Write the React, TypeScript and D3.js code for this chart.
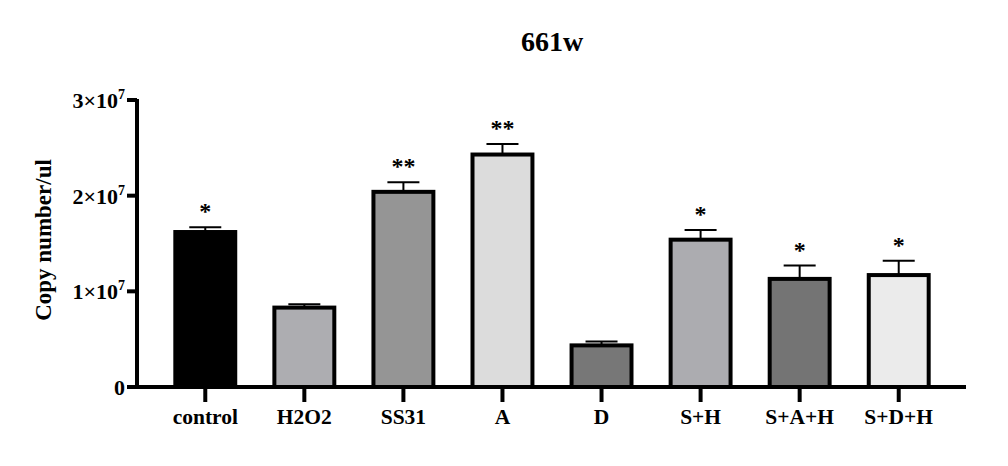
import { useEffect } from "react";
import * as d3 from "d3";

const categories = ["control", "H2O2", "SS31", "A", "D", "S+H", "S+A+H", "S+D+H"];
const means = [1.62e7, 0.83e7, 2.04e7, 2.43e7, 0.435e7, 1.54e7, 1.13e7, 1.17e7];
const upper = [1.67e7, 0.865e7, 2.14e7, 2.54e7, 0.475e7, 1.64e7, 1.27e7, 1.32e7];
const stars = ["*", "", "**", "**", "", "*", "*", "*"];
const fills = ["#000000", "#adadb1", "#959595", "#dcdcdc", "#777777", "#acacb0", "#747474", "#ebebeb"];
const yTicks = [0, 1e7, 2e7, 3e7];

const font = "'Liberation Serif', 'Times New Roman', serif";

export default function App() {
    useEffect(() => {
        document.body.style.margin = "0";
    }, []);

    const width = 1008;
    const height = 466;

    const x = d3.scaleBand()
        .domain(categories)
        .range([155.5, 948.5])
        .padding(0.395)
        .paddingOuter(0.2);

    const y = d3.scaleLinear()
        .domain([0, 3e7])
        .range([387, 100]);

    const axisX = 137;
    const axisY = y(0);

    return (
        <svg width={width} height={height} style={{ display: "block", fontFamily: font }}>
            {/* title */}
            <text x={552} y={51} textAnchor="middle" fontSize={28} fontWeight="bold">661w</text>

            {/* y title */}
            <text
                transform={`translate(51,240) rotate(-90)`}
                textAnchor="middle"
                fontSize={23}
                fontWeight="bold"
            >
                Copy number/ul
            </text>

            {/* bars */}
            {categories.map((c, i) => {
                const bx = x(c) || 0;
                const cx = bx + x.bandwidth() / 2;
                return (
                    <g key={c}>
                        <line x1={cx} x2={cx} y1={y(means[i])} y2={y(upper[i])} stroke="#000" strokeWidth={2} />
                        <line x1={cx - 16} x2={cx + 16} y1={y(upper[i])} y2={y(upper[i])} stroke="#000" strokeWidth={2} />
                        <rect
                            x={bx}
                            y={y(means[i])}
                            width={x.bandwidth()}
                            height={axisY - y(means[i])}
                            fill={fills[i]}
                            stroke="#000"
                            strokeWidth={4}
                        />
                        {stars[i] && (
                            <text x={cx} y={y(upper[i]) - 8} textAnchor="middle" fontSize={24} fontWeight="bold">
                                {stars[i]}
                            </text>
                        )}
                    </g>
                );
            })}

            {/* y axis */}
            <line x1={axisX} x2={axisX} y1={y(3e7) - 1} y2={axisY + 2} stroke="#000" strokeWidth={4} />
            {yTicks.map(t => (
                <g key={t}>
                    <line x1={axisX - 10} x2={axisX} y1={y(t)} y2={y(t)} stroke="#000" strokeWidth={4} />
                    <text x={axisX - 12} y={y(t) + 8} textAnchor="end" fontSize={22} fontWeight="bold">
                        {t === 0 ? "0" : (
                            <>
                                {`${t / 1e7}×10`}
                                <tspan dy={-9} fontSize={14}>7</tspan>
                            </>
                        )}
                    </text>
                </g>
            ))}

            {/* x axis */}
            <line x1={axisX - 2} x2={966} y1={axisY} y2={axisY} stroke="#000" strokeWidth={4} />
            {categories.map(c => {
                const cx = (x(c) || 0) + x.bandwidth() / 2;
                return (
                    <g key={c}>
                        <line x1={cx} x2={cx} y1={axisY} y2={axisY + 15} stroke="#000" strokeWidth={4} />
                        <text x={cx} y={424} textAnchor="middle" fontSize={21.5} fontWeight="bold">{c}</text>
                    </g>
                );
            })}
        </svg>
    );
}
